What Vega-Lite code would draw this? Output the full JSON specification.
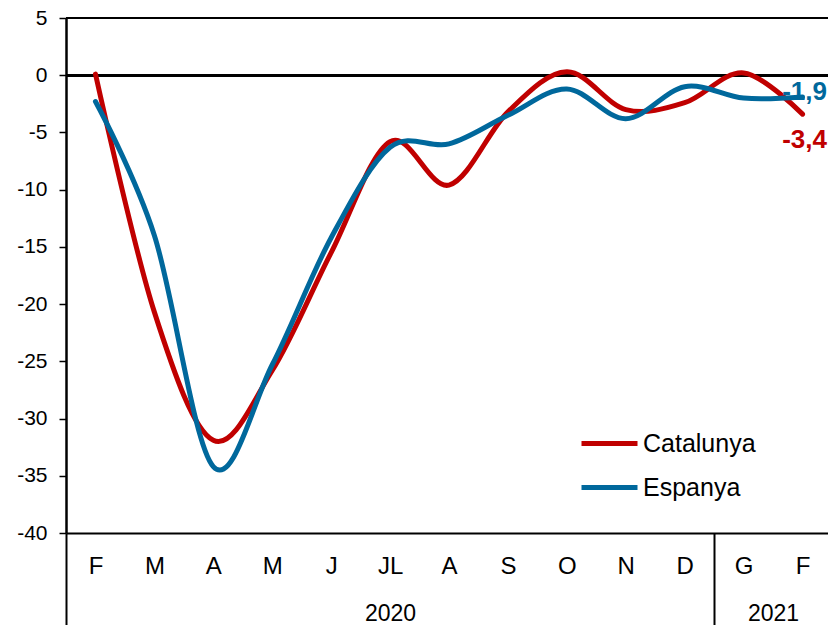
{
  "$schema": "https://vega.github.io/schema/vega-lite/v6.json",
  "width": 766,
  "height": 515,
  "autosize": {"type": "none"},
  "padding": {"left": 66, "top": 18, "right": 0, "bottom": 92},
  "background": "white",
  "config": {
    "view": {"stroke": null},
    "font": "Liberation Sans",
    "axis": {"labelFont": "Liberation Sans", "labelColor": "black", "domainColor": "black", "tickColor": "black", "grid": false, "title": null}
  },
  "data": {
    "values": [
      {"i": 0, "serie": "Catalunya", "v": 0.1},
      {"i": 1, "serie": "Catalunya", "v": -20.7},
      {"i": 2, "serie": "Catalunya", "v": -31.9},
      {"i": 3, "serie": "Catalunya", "v": -25.8},
      {"i": 4, "serie": "Catalunya", "v": -15.5},
      {"i": 5, "serie": "Catalunya", "v": -5.8},
      {"i": 6, "serie": "Catalunya", "v": -9.6},
      {"i": 7, "serie": "Catalunya", "v": -3.2},
      {"i": 8, "serie": "Catalunya", "v": 0.3},
      {"i": 9, "serie": "Catalunya", "v": -3.0},
      {"i": 10, "serie": "Catalunya", "v": -2.4},
      {"i": 11, "serie": "Catalunya", "v": 0.2},
      {"i": 12, "serie": "Catalunya", "v": -3.4, "label": "-3,4"},
      {"i": 0, "serie": "Espanya", "v": -2.3},
      {"i": 1, "serie": "Espanya", "v": -14.0},
      {"i": 2, "serie": "Espanya", "v": -34.2},
      {"i": 3, "serie": "Espanya", "v": -25.3},
      {"i": 4, "serie": "Espanya", "v": -14.2},
      {"i": 5, "serie": "Espanya", "v": -6.3},
      {"i": 6, "serie": "Espanya", "v": -6.0},
      {"i": 7, "serie": "Espanya", "v": -3.5},
      {"i": 8, "serie": "Espanya", "v": -1.2},
      {"i": 9, "serie": "Espanya", "v": -3.8},
      {"i": 10, "serie": "Espanya", "v": -1.0},
      {"i": 11, "serie": "Espanya", "v": -2.0},
      {"i": 12, "serie": "Espanya", "v": -1.9, "label": "-1,9"}
    ]
  },
  "layer": [
    {
      "mark": {"type": "rule", "color": "black", "strokeWidth": 2},
      "encoding": {"y": {"datum": 5, "type": "quantitative"}}
    },
    {
      "mark": {"type": "rule", "color": "black", "strokeWidth": 2},
      "encoding": {"y": {"datum": 0, "type": "quantitative"}}
    },
    {
      "mark": {"type": "line", "interpolate": "cardinal", "tension": 0, "strokeWidth": 5, "strokeCap": "round"},
      "encoding": {
        "x": {
          "field": "i", "type": "quantitative",
          "scale": {"domain": [-0.5, 12.5], "nice": false, "zero": false},
          "axis": {
            "orient": "bottom",
            "values": [0,1,2,3,4,5,6,7,8,9,10,11,12],
            "labelExpr": "['F','M','A','M','J','JL','A','S','O','N','D','G','F'][datum.value]",
            "ticks": false, "labelPadding": 21, "labelFontSize": 24,
            "domainWidth": 2, "labelFlush": false, "labelOverlap": false
          }
        },
        "y": {
          "field": "v", "type": "quantitative",
          "scale": {"domain": [-40, 5], "nice": false, "zero": false},
          "axis": {
            "orient": "left",
            "values": [-40,-35,-30,-25,-20,-15,-10,-5,0,5],
            "labelExpr": "'' + datum.value",
            "labelFontSize": 21, "tickSize": 7, "tickWidth": 1.5, "domainWidth": 2.5,
            "labelPadding": 12, "labelFlush": false, "labelOverlap": false
          }
        },
        "color": {
          "field": "serie", "type": "nominal",
          "scale": {"domain": ["Catalunya", "Espanya"], "range": ["#C00000", "#00689C"]},
          "legend": {
            "orient": "none", "legendX": 513, "legendY": 395, "title": null,
            "symbolType": "stroke", "symbolSize": 3136, "symbolStrokeWidth": 5,
            "labelFontSize": 25, "labelFont": "Liberation Sans", "labelColor": "black",
            "labelOffset": 3, "rowPadding": 0
          }
        }
      }
    },
    {
      "transform": [{"filter": "datum.serie == 'Espanya' && isValid(datum.label)"}],
      "mark": {"type": "text", "fontSize": 26, "fontWeight": "bold", "color": "#00689C", "align": "center", "baseline": "middle", "dx": 2, "dy": -5},
      "encoding": {
        "x": {
          "field": "i", "type": "quantitative",
          "axis": {
            "orient": "bottom",
            "values": [5, 11.5],
            "labelExpr": "datum.value < 11 ? '2020' : '2021'",
            "ticks": false, "domain": false, "labelPadding": 69, "labelFontSize": 23, "labelFlush": false
          }
        },
        "y": {"field": "v", "type": "quantitative"},
        "text": {"field": "label"}
      }
    },
    {
      "transform": [{"filter": "datum.serie == 'Catalunya' && isValid(datum.label)"}],
      "mark": {"type": "text", "fontSize": 26, "fontWeight": "bold", "color": "#C00000", "align": "center", "baseline": "middle", "dx": 2, "dy": 26},
      "encoding": {
        "x": {
          "field": "i", "type": "quantitative",
          "axis": {
            "orient": "bottom",
            "values": [-0.5, 10.5, 12.5],
            "labels": false, "domain": false, "tickSize": 92, "tickWidth": 2
          }
        },
        "y": {"field": "v", "type": "quantitative"},
        "text": {"field": "label"}
      }
    }
  ],
  "resolve": {"axis": {"x": "independent"}}
}
